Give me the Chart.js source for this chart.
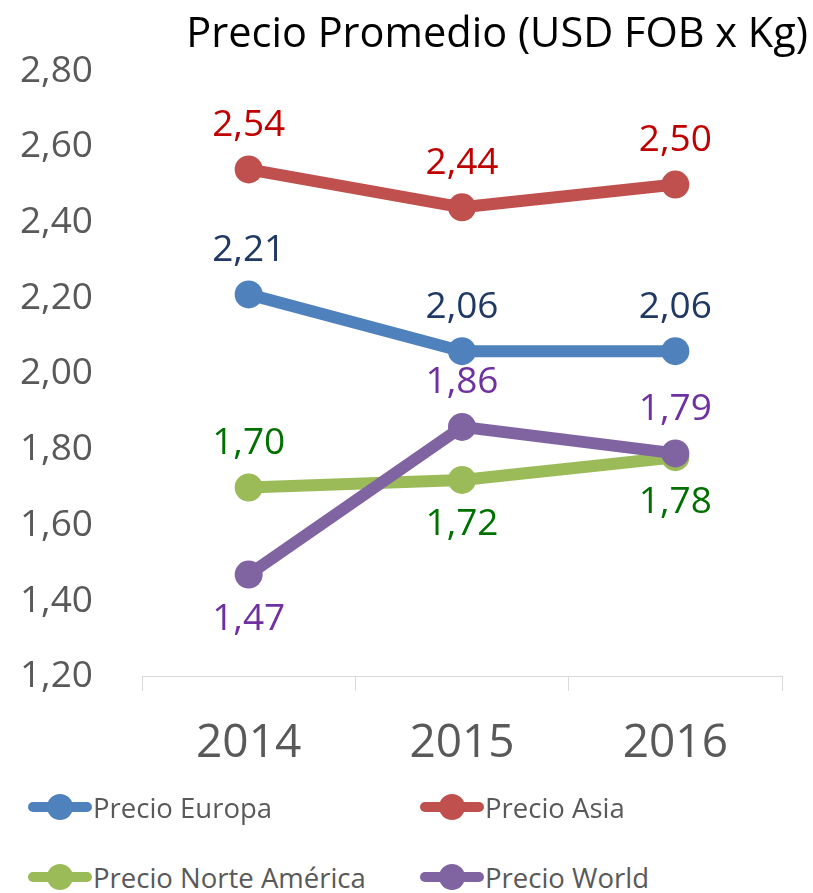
<!DOCTYPE html>
<html>
<head>
<meta charset="utf-8">
<script src="https://cdn.jsdelivr.net/npm/chart.js@4.4.1/dist/chart.umd.min.js"></script>
<style>
  html, body { margin: 0; padding: 0; background: #fff; }
  #wrap { position: relative; width: 813px; height: 893px; font-family: 'Open Sans', sans-serif; }
  #chart { position: absolute; left: 0; top: 0; }
  .lg { position: absolute; height: 30px; display: flex; align-items: center; color: #595959; font-size: 27.5px; white-space: nowrap; }
  .mk { position: relative; width: 64px; height: 30px; margin-right: 1px; }
  .mk .ln { position: absolute; left: 0; right: 0; top: 10px; height: 10px; border-radius: 5px; }
  .mk .dot { position: absolute; left: 19px; top: 2px; width: 26px; height: 26px; border-radius: 50%; }
</style>
</head>
<body>
<div id="wrap">
  <canvas id="chart" width="813" height="806"></canvas>
  <div id="legend"></div>
</div>
<script>
// data
const years = ['2014', '2015', '2016'];
const seriesNames = ['Precio Europa', 'Precio Asia', 'Precio Norte América', 'Precio World'];
const europa = [2.21, 2.06, 2.06];
const asia = [2.54, 2.44, 2.50];
const norteAmerica = [1.70, 1.72, 1.78];
const world = [1.47, 1.86, 1.79];

const lineColors = ['#4F81BD', '#C0504D', '#9BBB59', '#8064A2'];
const labelColors = ['#1F3864', '#C00000', '#007000', '#7030A0'];
// where each value label sits relative to its point
const labelSide = [
  ['top', 'top', 'top'],
  ['top', 'top', 'top'],
  ['top', 'bottom', 'bottom'],
  ['bottom', 'top', 'top']
];

const fmt = v => v.toFixed(2).replace('.', ',');

const valueLabels = {
  id: 'valueLabels',
  afterDatasetsDraw(chart) {
    const ctx = chart.ctx;
    ctx.save();
    ctx.font = '37px "Open Sans"';
    ctx.textAlign = 'center';
    ctx.textBaseline = 'middle';
    chart.data.datasets.forEach((ds, i) => {
      chart.getDatasetMeta(i).data.forEach((pt, j) => {
        const dy = labelSide[i][j] === 'top' ? -44 : 45;
        ctx.fillStyle = labelColors[i];
        ctx.fillText(fmt(ds.data[j]), pt.x, pt.y + dy);
      });
    });
    ctx.restore();
  }
};

const titleText = {
  id: 'titleText',
  afterDraw(chart) {
    const ctx = chart.ctx;
    ctx.save();
    ctx.font = '41.5px "Open Sans"';
    ctx.fillStyle = '#000';
    ctx.textAlign = 'right';
    ctx.textBaseline = 'middle';
    ctx.fillText('Precio Promedio (USD FOB x Kg)', 808, 35);
    ctx.restore();
  }
};

new Chart(document.getElementById('chart'), {
  type: 'line',
  data: {
    labels: years,
    datasets: [europa, asia, norteAmerica, world].map((d, i) => ({
      label: seriesNames[i],
      data: d,
      order: 3 - i, // later series drawn on top
      borderColor: lineColors[i],
      backgroundColor: lineColors[i],
      borderWidth: 12,
      pointRadius: 14,
      pointHoverRadius: 14,
      pointBorderWidth: 0,
      borderCapStyle: 'round',
      borderJoinStyle: 'round',
      tension: 0
    }))
  },
  options: {
    responsive: false,
    animation: false,
    layout: { padding: { left: 17, right: 31, top: 71, bottom: 10 } },
    plugins: { legend: { display: false }, title: { display: false }, tooltip: { enabled: false } },
    scales: {
      x: {
        offset: true,
        grid: { display: true, offset: true, drawOnChartArea: false, drawTicks: true, tickLength: 14, color: '#D9D9D9' },
        border: { display: true, color: '#D9D9D9', width: 1 },
        ticks: { color: '#595959', font: { family: 'Open Sans', size: 46 }, padding: 25 }
      },
      y: {
        min: 1.2,
        max: 2.8,
        grid: { display: false },
        border: { display: false },
        ticks: { stepSize: 0.2, color: '#595959', font: { family: 'Open Sans', size: 37 }, padding: 41, callback: v => fmt(v) },
        afterFit(scale) { scale.width = 125; }
      }
    }
  },
  plugins: [valueLabels, titleText]
});

// legend in two columns
const legendPos = [[28, 792], [420, 792], [28, 862], [420, 862]];
const legend = document.getElementById('legend');
seriesNames.forEach((name, i) => {
  const item = document.createElement('div');
  item.className = 'lg';
  item.style.left = legendPos[i][0] + 'px';
  item.style.top = legendPos[i][1] + 'px';
  item.innerHTML = '<span class="mk"><span class="ln" style="background:' + lineColors[i] + '"></span>' +
    '<span class="dot" style="background:' + lineColors[i] + '"></span></span><span>' + name + '</span>';
  legend.appendChild(item);
});
</script>
</body>
</html>
